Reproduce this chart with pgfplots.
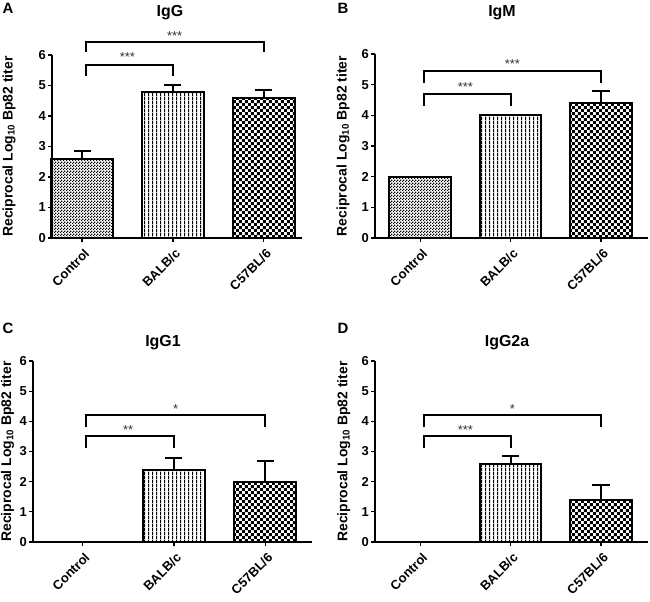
\documentclass[border=0pt]{standalone}
\usepackage{fontspec}
\setmainfont{Liberation Sans}
\usepackage{pgfplots}
\pgfplotsset{compat=1.18}
\usetikzlibrary{patterns}

\pgfdeclarepatternformonly{finecheck}{\pgfpointorigin}{\pgfpoint{3bp}{3bp}}{\pgfpoint{3bp}{3bp}}{%
  \pgfpathrectangle{\pgfpointorigin}{\pgfpoint{1.5bp}{1.5bp}}%
  \pgfpathrectangle{\pgfpoint{1.5bp}{1.5bp}}{\pgfpoint{1.5bp}{1.5bp}}%
  \pgfusepath{fill}}
\pgfdeclarepatternformonly{coarsecheck}{\pgfpointorigin}{\pgfpoint{6.4bp}{6.4bp}}{\pgfpoint{6.4bp}{6.4bp}}{%
  \pgfpathrectangle{\pgfpointorigin}{\pgfpoint{3.2bp}{3.2bp}}%
  \pgfpathrectangle{\pgfpoint{3.2bp}{3.2bp}}{\pgfpoint{3.2bp}{3.2bp}}%
  \pgfusepath{fill}}
\pgfdeclarepatternformonly{vlines}{\pgfpointorigin}{\pgfpoint{3.7bp}{3.7bp}}{\pgfpoint{3.7bp}{3.7bp}}{%
  \pgfpathrectangle{\pgfpointorigin}{\pgfpoint{1.1bp}{3.7bp}}%
  \pgfusepath{fill}}

\pgfplotsset{
  panel/.style={
    scale only axis, anchor=south west,
    axis x line*=bottom, axis y line*=left,
    ymin=0, ymax=6, ytick={0,1,2,3,4,5,6},
    xtick={0,1,2}, xticklabels={Control,BALB/c,C57BL/6},
    tick align=outside, major tick length=4bp,
    axis line style={line width=2bp, black},
    every tick/.style={black, line width=1.3bp},
    tick label style={font=\bfseries\fontsize{13}{13}\selectfont},
    /pgf/number format/assume math mode=true,
    yticklabel style={inner sep=2bp},
    xticklabel style={rotate=45, anchor=east, xshift=-2bp, yshift=-10bp, font=\bfseries\fontsize{13}{13}\selectfont, inner sep=1bp},
    ylabel={Reciprocal Log\textsubscript{10} Bp82 titer},
    ylabel style={font=\bfseries\fontsize{14}{14}\selectfont, anchor=center},
    clip=false,
    ybar, bar width=0.68, bar shift=0pt,
    error bars/error bar style={line width=2bp, black},
    error bars/error mark options={rotate=90, line width=2bp, black, mark size=8.5bp},
  },
  ctrl/.style={draw=black, line width=2bp, pattern=finecheck},
  balb/.style={draw=black, line width=2bp, pattern=vlines},
  c57/.style={draw=black, line width=2bp, pattern=coarsecheck},
  err/.style={error bars/.cd, y dir=plus, y explicit},
}
\newcommand{\bracket}[3]{%
  \draw[line width=2bp] (axis cs:0.04,#2) -- (axis cs:0.04,#3) -- (axis cs:#1,#3) -- (axis cs:#1,#2);}
\tikzset{stars/.style={font=\fontsize{13}{13}\selectfont, text=black!80, inner sep=0pt}}

\begin{document}
\begin{tikzpicture}
\path[use as bounding box] (0,0) rectangle (650bp,602bp);

% ---- Panel A ----
\begin{axis}[panel, at={(52bp,364bp)}, width=250bp, height=183bp,
  xmin=-0.33, xmax=2.42,
  ylabel style={at={(axis description cs:-0.172,0.5)}}]
\addplot[ctrl, err] coordinates {(0,2.6) +- (0,0.25)};
\addplot[balb, err] coordinates {(1,4.8) +- (0,0.2)};
\addplot[c57, err] coordinates {(2,4.6) +- (0,0.25)};
\bracket{2}{6.1}{6.43}
\bracket{1}{5.3}{5.67}
\node[stars] at (axis cs:1.02,6.62) {***};
\node[stars] at (axis cs:0.5,5.93) {***};
\end{axis}

% ---- Panel B ----
\begin{axis}[panel, at={(375bp,364bp)}, width=273bp, height=184bp,
  xmin=-0.5, xmax=2.52,
  ylabel style={at={(axis description cs:-0.117,0.5)}}]
\addplot[ctrl] coordinates {(0,2.0)};
\addplot[balb] coordinates {(1,4.0)};
\addplot[c57, err] coordinates {(2,4.4) +- (0,0.4)};
\bracket{2}{5.05}{5.45}
\bracket{1}{4.3}{4.7}
\node[stars] at (axis cs:1.02,5.68) {***};
\node[stars] at (axis cs:0.5,4.93) {***};
\end{axis}

% ---- Panel C ----
\begin{axis}[panel, at={(33bp,60bp)}, width=279bp, height=181bp,
  xmin=-0.54, xmax=2.51,
  ylabel style={at={(axis description cs:-0.091,0.5)}}]
\addplot[balb, err] coordinates {(1,2.4) +- (0,0.4)};
\addplot[c57, err] coordinates {(2,2.0) +- (0,0.7)};
\bracket{2}{3.8}{4.2}
\bracket{1}{3.1}{3.5}
\node[stars] at (axis cs:1.02,4.4) {*};
\node[stars] at (axis cs:0.5,3.7) {**};
\end{axis}

% ---- Panel D ----
\begin{axis}[panel, at={(375bp,60bp)}, width=273bp, height=181bp,
  xmin=-0.5, xmax=2.52,
  ylabel style={at={(axis description cs:-0.114,0.5)}}]
\addplot[balb, err] coordinates {(1,2.6) +- (0,0.25)};
\addplot[c57, err] coordinates {(2,1.4) +- (0,0.5)};
\bracket{2}{3.8}{4.2}
\bracket{1}{3.1}{3.5}
\node[stars] at (axis cs:1.02,4.4) {*};
\node[stars] at (axis cs:0.5,3.7) {***};
\end{axis}

% titles and panel letters
\begin{scope}[every node/.style={font=\bfseries\fontsize{16}{16}\selectfont}]
\node at (170bp,589bp) {IgG};
\node at (502bp,589bp) {IgM};
\node at (163bp,259bp) {IgG1};
\node at (507bp,259bp) {IgG2a};
\end{scope}
\begin{scope}[every node/.style={font=\bfseries\fontsize{15}{15}\selectfont}]
\node at (8bp,594bp) {A};
\node at (343bp,594bp) {B};
\node at (8bp,274bp) {C};
\node at (343bp,274bp) {D};
\end{scope}
\end{tikzpicture}
\end{document}
